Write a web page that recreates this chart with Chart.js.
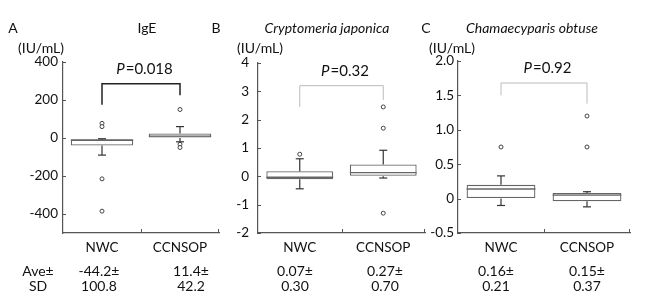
<!DOCTYPE html>
<html>
<head>
<meta charset="utf-8">
<script src="https://cdn.jsdelivr.net/npm/chart.js@4"></script>
<style>
body { margin: 0; background: #fff; font-family: Lato, sans-serif; }
#wrap { position: relative; width: 654px; height: 304px; overflow: hidden; }
canvas { position: absolute; top: 0; }
.t { position: absolute; font-size: 13px; color: #111; transform: translate(-50%, -50%); white-space: nowrap; }
.h { font-size: 14px; }
.i { font-style: italic; }
</style>
</head>
<body>
<div id="wrap">
  <canvas id="cA" width="224" height="304" style="left:0px"></canvas>
  <canvas id="cB" width="206" height="304" style="left:224px"></canvas>
  <canvas id="cC" width="224" height="304" style="left:430px"></canvas>
</div>
<script>
const groups = ['NWC', 'CCNSOP'];

// A: IgE
const igeQ1 = [-40, 0];
const igeMedian = [-12, 10];
const igeQ3 = [-6, 24];
const igeLow = [-90, -20];
const igeHigh = [-4, 60];
const igeOutliers = [[77, 60, -215, -385], [150, -33, -50]];
const igeTicks = [-400, -200, 0, 200, 400];
const igeMean = [-44.2, 11.4];
const igeSD = [100.8, 42.2];
const igeP = '0.018';

// B: Cryptomeria japonica
const cjQ1 = [-0.1, 0.0];
const cjMedian = [-0.03, 0.13];
const cjQ3 = [0.18, 0.42];
const cjLow = [-0.44, -0.06];
const cjHigh = [0.62, 0.92];
const cjOutliers = [[0.78], [2.45, 1.7, -1.3]];
const cjTicks = [-2, -1, 0, 1, 2, 3, 4];
const cjMean = [0.07, 0.27];
const cjSD = [0.30, 0.70];
const cjP = '0.32';

// C: Chamaecyparis obtuse
const coQ1 = [0, -0.04];
const coMedian = [0.14, 0.05];
const coQ3 = [0.2, 0.08];
const coLow = [-0.1, -0.12];
const coHigh = [0.33, 0.1];
const coOutliers = [[0.75], [1.2, 0.75]];
const coTicks = [-0.5, 0, 0.5, 1.0, 1.5, 2.0];
const coMean = [0.16, 0.15];
const coSD = [0.21, 0.37];
const coP = '0.92';

const axisColor = '#555';
const textColor = '#111';
const boxColor = '#666';

function line(ctx, x0, y0, x1, y1) {
  ctx.beginPath(); ctx.moveTo(x0, y0); ctx.lineTo(x1, y1); ctx.stroke();
}

const boxExtras = {
  id: 'boxExtras',
  afterDatasetsDraw(chart, args, o) {
    const ctx = chart.ctx, y = chart.scales.y, x = chart.scales.x, area = chart.chartArea;
    const bars = chart.getDatasetMeta(0).data;
    ctx.save();
    bars.forEach((bar, i) => {
      const cx = bar.x, hw = bar.width / 2;
      ctx.strokeStyle = boxColor; ctx.lineWidth = 1.4;
      const ym = y.getPixelForValue(o.median[i]);
      line(ctx, cx - hw, ym, cx + hw, ym);
      ctx.strokeStyle = '#333'; ctx.lineWidth = 1.2;
      [[o.q3[i], o.high[i]], [o.q1[i], o.low[i]]].forEach(([from, to]) => {
        const y0 = y.getPixelForValue(from), y1 = y.getPixelForValue(to);
        line(ctx, cx, y0, cx, y1);
        line(ctx, cx - 4, y1, cx + 4, y1);
      });
    });
    // inward tick marks
    ctx.strokeStyle = axisColor; ctx.lineWidth = 1;
    y.ticks.forEach(t => {
      const py = Math.round(y.getPixelForValue(t.value)) + 0.5;
      line(ctx, area.left, py, area.left + 3, py);
    });
    const mid = Math.round((x.getPixelForValue(0) + x.getPixelForValue(1)) / 2) + 0.5;
    line(ctx, mid, area.bottom, mid, area.bottom - 4);
    line(ctx, area.right - 0.5, area.bottom, area.right - 0.5, area.bottom - 4);
    // significance bracket
    const b = o.bracket;
    const xl = x.getPixelForValue(0), xr = x.getPixelForValue(1);
    const yt = y.getPixelForValue(b.top);
    ctx.strokeStyle = b.color; ctx.lineWidth = b.width;
    ctx.beginPath();
    ctx.moveTo(xl, y.getPixelForValue(b.left));
    ctx.lineTo(xl, yt);
    ctx.lineTo(xr, yt);
    ctx.lineTo(xr, y.getPixelForValue(b.right));
    ctx.stroke();
    // P value text
    ctx.fillStyle = textColor;
    ctx.textBaseline = 'middle';
    ctx.font = 'italic 15px Lato';
    const wP = ctx.measureText('P').width;
    ctx.font = '15px Lato';
    const rest = '=' + o.p;
    const wR = ctx.measureText(rest).width;
    const tx = (xl + xr) / 2 + 3 - (wP + wR) / 2, ty = yt - 15;
    ctx.font = 'italic 15px Lato';
    ctx.fillText('P', tx, ty);
    ctx.font = '15px Lato';
    ctx.fillText(rest, tx + wP + 1, ty);
    ctx.restore();
  }
};

function makePanel(id, p) {
  return new Chart(document.getElementById(id), {
    type: 'bar',
    data: {
      labels: groups,
      datasets: [{
        data: groups.map((g, i) => [p.q1[i], p.q3[i]]),
        backgroundColor: '#fff',
        borderColor: boxColor,
        borderWidth: 1.3,
        borderSkipped: false,
        barPercentage: 0.8,
        categoryPercentage: 1
      }, {
        type: 'line',
        showLine: false,
        data: groups.flatMap((g, i) => p.outliers[i].map(v => ({ x: g, y: v }))),
        pointStyle: 'circle',
        pointRadius: 2,
        pointBorderWidth: 1,
        pointBorderColor: '#444',
        pointBackgroundColor: '#fff'
      }]
    },
    options: {
      responsive: false,
      animation: false,
      devicePixelRatio: 1,
      layout: { padding: { top: p.top, right: p.right, bottom: 41, left: 0 } },
      plugins: {
        legend: { display: false },
        tooltip: { enabled: false },
        boxExtras: {
          median: p.median, q1: p.q1, q3: p.q3, low: p.low, high: p.high,
          bracket: p.bracket, p: p.p
        }
      },
      scales: {
        x: {
          afterFit: s => { s.height = 30; },
          grid: { display: true, drawOnChartArea: false, drawTicks: false },
          border: { color: axisColor, width: 1.2 },
          ticks: { color: textColor, padding: 7, font: { family: 'Lato', size: 13.5 } }
        },
        y: {
          min: p.min,
          max: p.ticks[p.ticks.length - 1],
          afterFit: s => { s.width = p.yWidth; },
          afterBuildTicks: s => { s.ticks = p.ticks.map(v => ({ value: v })); },
          grid: { display: true, drawOnChartArea: false, drawTicks: false },
          border: { color: axisColor, width: 1.2 },
          ticks: {
            color: textColor, padding: p.tickPad, font: { family: 'Lato', size: 13.5 },
            callback: p.fmt
          }
        }
      }
    },
    plugins: [boxExtras]
  });
}

makePanel('cA', {
  q1: igeQ1, median: igeMedian, q3: igeQ3, low: igeLow, high: igeHigh, outliers: igeOutliers,
  ticks: igeTicks, min: -500, p: igeP,
  bracket: { top: 285, left: 175, right: 225, color: '#222', width: 1.5 },
  top: 62, right: 4, yWidth: 63, tickPad: 5, fmt: v => String(v)
});
makePanel('cB', {
  q1: cjQ1, median: cjMedian, q3: cjQ3, low: cjLow, high: cjHigh, outliers: cjOutliers,
  ticks: cjTicks, min: -2, p: cjP,
  bracket: { top: 3.2, left: 2.45, right: 2.7, color: '#bbb', width: 1 },
  top: 63, right: 2, yWidth: 34, tickPad: 9, fmt: v => String(v)
});
makePanel('cC', {
  q1: coQ1, median: coMedian, q3: coQ3, low: coLow, high: coHigh, outliers: coOutliers,
  ticks: coTicks, min: -0.5, p: coP,
  bracket: { top: 1.68, left: 1.5, right: 1.38, color: '#bbb', width: 1 },
  top: 61, right: 24, yWidth: 28, tickPad: 4, fmt: v => (v === 0 ? '0' : v.toFixed(1))
});

// text around the panels
const wrap = document.getElementById('wrap');
function label(text, x, y, cls) {
  const d = document.createElement('div');
  d.className = 't' + (cls ? ' ' + cls : '');
  d.textContent = text;
  d.style.left = x + 'px';
  d.style.top = y + 'px';
  wrap.appendChild(d);
}
label('A', 13, 27, 'h'); label('IgE', 147, 27, 'h'); label('(IU/mL)', 41, 47, 'h');
label('B', 216, 27, 'h'); label('Cryptomeria japonica', 327, 27, 'h i'); label('(IU/mL)', 260, 47, 'h');
label('C', 426, 27, 'h'); label('Chamaecyparis obtuse', 532, 27, 'h i'); label('(IU/mL)', 452, 47, 'h');
label('Ave±', 38, 270, 'h'); label('SD', 38, 285, 'h');

const statCols = [
  { mean: igeMean, sd: igeSD, xs: [99, 191], dp: 1 },
  { mean: cjMean, sd: cjSD, xs: [295, 385], dp: 2 },
  { mean: coMean, sd: coSD, xs: [496, 587], dp: 2 }
];
statCols.forEach(c => {
  groups.forEach((g, i) => {
    label(c.mean[i].toFixed(c.dp) + '±', c.xs[i], 270, 'h');
    label(c.sd[i].toFixed(c.dp), c.xs[i], 285, 'h');
  });
});
</script>
</body>
</html>
